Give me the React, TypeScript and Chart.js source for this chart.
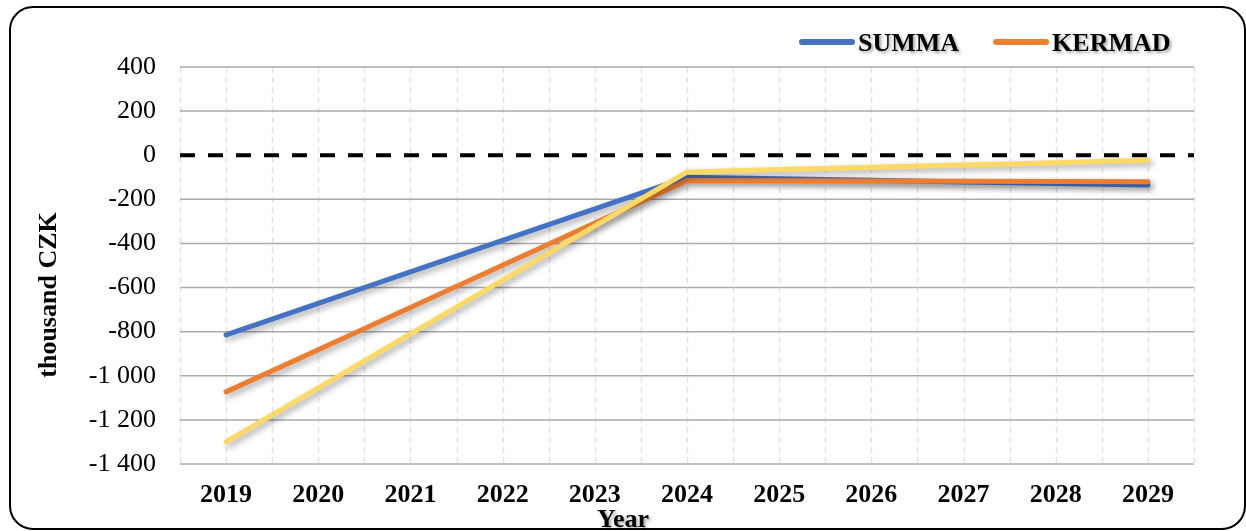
import React, { useEffect, useRef } from "react";
import { Chart, registerables } from "chart.js";

Chart.register(...registerables);

const years = ["2019", "2020", "2021", "2022", "2023", "2024", "2025", "2026", "2027", "2028", "2029"];
const summa = [-815, -672, -529, -386, -243, -100, -107, -114, -121, -128, -135];
const kermad = [-1073, -882, -690, -499, -307, -115, -116, -117, -118, -119, -120];
const third = [-1300, -1055, -810, -566, -321, -76, -65, -55, -44, -34, -23];
const seriesLabels = ["SUMMA", "KERMAD", ""];
const seriesColors = ["#4472C4", "#ED7D31", "#FFD966"];
const yMin = -1400;
const yMax = 400;
const yStep = 200;
const xTitle = "Year";
const yTitle = "thousand CZK";

const FONT = "'Liberation Serif', 'Times New Roman', serif";

function fmt(v: number): string {
  const sign = v < 0 ? "-" : "";
  const a = Math.abs(v);
  if (a >= 1000) {
    const th = Math.floor(a / 1000);
    const rest = String(a % 1000).padStart(3, "0");
    return sign + th + " " + rest;
  }
  return sign + a;
}

const decorPlugin = {
  id: "decor",
  beforeDatasetsDraw(chart: any) {
    const { ctx, chartArea } = chart;
    const x = chart.scales.x;
    const y = chart.scales.y;
    // vertical light dashed grid at categories and half-categories
    ctx.save();
    ctx.strokeStyle = "#E4E4E4";
    ctx.lineWidth = 1.5;
    ctx.setLineDash([6, 4]);
    for (let i = -0.5; i <= years.length - 0.5 + 1e-6; i += 0.5) {
      const px = Math.round(x.getPixelForValue(i)) + 0.5;
      ctx.beginPath();
      ctx.moveTo(px, chartArea.top);
      ctx.lineTo(px, chartArea.bottom);
      ctx.stroke();
    }
    ctx.restore();
    // redraw horizontal grid over vertical
    ctx.save();
    ctx.strokeStyle = "#ABABAB";
    ctx.lineWidth = 1.5;
    for (let v = yMin; v <= yMax; v += yStep) {
      if (v === 0) continue;
      const py = y.getPixelForValue(v);
      ctx.beginPath();
      ctx.moveTo(chartArea.left, py);
      ctx.lineTo(chartArea.right, py);
      ctx.stroke();
    }
    ctx.restore();
    // zero dashed line
    ctx.save();
    ctx.strokeStyle = "#000";
    ctx.lineWidth = 4;
    ctx.setLineDash([15, 13]);
    const zy = y.getPixelForValue(0);
    ctx.beginPath();
    ctx.moveTo(chartArea.left, zy);
    ctx.lineTo(chartArea.right, zy);
    ctx.stroke();
    ctx.restore();
  },
  beforeDatasetDraw(chart: any) {
    const ctx = chart.ctx;
    ctx.save();
    ctx.shadowColor = "rgba(0,0,0,0.35)";
    ctx.shadowBlur = 6;
    ctx.shadowOffsetX = 3;
    ctx.shadowOffsetY = 3;
  },
  afterDatasetDraw(chart: any) {
    chart.ctx.restore();
  },
  afterDraw(chart: any) {
    const { ctx } = chart;
    ctx.save();
    ctx.fillStyle = "#000";
    ctx.font = `bold 26px ${FONT}`;
    ctx.shadowColor = "rgba(0,0,0,0.35)";
    ctx.shadowBlur = 3;
    ctx.shadowOffsetX = 2;
    ctx.shadowOffsetY = 2;
    // x title
    ctx.textAlign = "center";
    ctx.textBaseline = "alphabetic";
    ctx.fillText(xTitle, 623, 527);
    ctx.restore();

    ctx.save();
    ctx.fillStyle = "#000";
    ctx.font = `bold 26px ${FONT}`;
    ctx.translate(56, 295);
    ctx.rotate(-Math.PI / 2);
    ctx.textAlign = "center";
    ctx.textBaseline = "alphabetic";
    ctx.fillText(yTitle, 0, 0);
    ctx.restore();

    // legend
    ctx.save();
    ctx.font = `bold 26px ${FONT}`;
    let lx = 799;
    const ly = 42;
    chart.data.datasets.forEach((ds: any) => {
      if (!ds.label) return;
      ctx.save();
      ctx.strokeStyle = ds.borderColor;
      ctx.lineWidth = 6;
      ctx.lineCap = "round";
      ctx.beginPath();
      ctx.moveTo(lx + 3, ly);
      ctx.lineTo(lx + 53, ly);
      ctx.stroke();
      ctx.restore();
      ctx.save();
      ctx.fillStyle = "#000";
      ctx.shadowColor = "rgba(0,0,0,0.35)";
      ctx.shadowBlur = 3;
      ctx.shadowOffsetX = 2;
      ctx.shadowOffsetY = 2;
      ctx.textAlign = "left";
      ctx.textBaseline = "alphabetic";
      ctx.fillText(ds.label, lx + 59, ly + 9);
      ctx.restore();
      lx += 59 + ctx.measureText(ds.label).width + 34;
    });
    ctx.restore();
  },
};

export default function App() {
  const ref = useRef<HTMLCanvasElement | null>(null);
  useEffect(() => {
    if (!ref.current) return;
    const data = [summa, kermad, third];
    const chart = new Chart(ref.current, {
      type: "line",
      data: {
        labels: years,
        datasets: data.map((d, i) => ({
          label: seriesLabels[i],
          data: d,
          borderColor: seriesColors[i],
          backgroundColor: seriesColors[i],
          borderWidth: 5,
          borderCapStyle: "round",
          borderJoinStyle: "round",
          pointRadius: 0,
          fill: false,
          tension: 0,
          order: 3 - i,
        })),
      },
      options: {
        animation: false,
        responsive: false,
        devicePixelRatio: 1,
        layout: { padding: { top: 67, right: 52, left: 0, bottom: 0 } },
        plugins: {
          legend: { display: false },
          tooltip: { enabled: false },
        },
        scales: {
          x: {
            offset: true,
            grid: { display: false, drawTicks: false },
            border: { display: false },
            ticks: {
              color: "#000",
              padding: 16,
              font: { family: FONT, size: 26, weight: "bold" },
              maxRotation: 0,
              autoSkip: false,
            },
            afterFit(s: any) {
              s.height = 67;
            },
          },
          y: {
            min: yMin,
            max: yMax,
            grid: { display: false, drawTicks: false },
            border: { display: false },
            ticks: {
              stepSize: yStep,
              color: "#000",
              padding: 24,
              font: { family: FONT, size: 26 },
              callback: (v: any) => fmt(Number(v)),
            },
            afterFit(s: any) {
              s.width = 180;
            },
          },
        },
      },
      plugins: [decorPlugin],
    } as any);
    return () => chart.destroy();
  }, []);
  return (
    <div style={{ position: "fixed", left: 0, top: 0, width: 1246, height: 531, background: "#fff" }}>
      <canvas ref={ref} width={1246} height={531} style={{ position: "absolute", left: 0, top: 0, width: 1246, height: 531 }} />
      <div
        style={{
          position: "absolute",
          left: 9,
          top: 6,
          width: 1237,
          height: 524,
          boxSizing: "border-box",
          border: "2px solid #000",
          borderRadius: 24,
          pointerEvents: "none",
        }}
      />
    </div>
  );
}
